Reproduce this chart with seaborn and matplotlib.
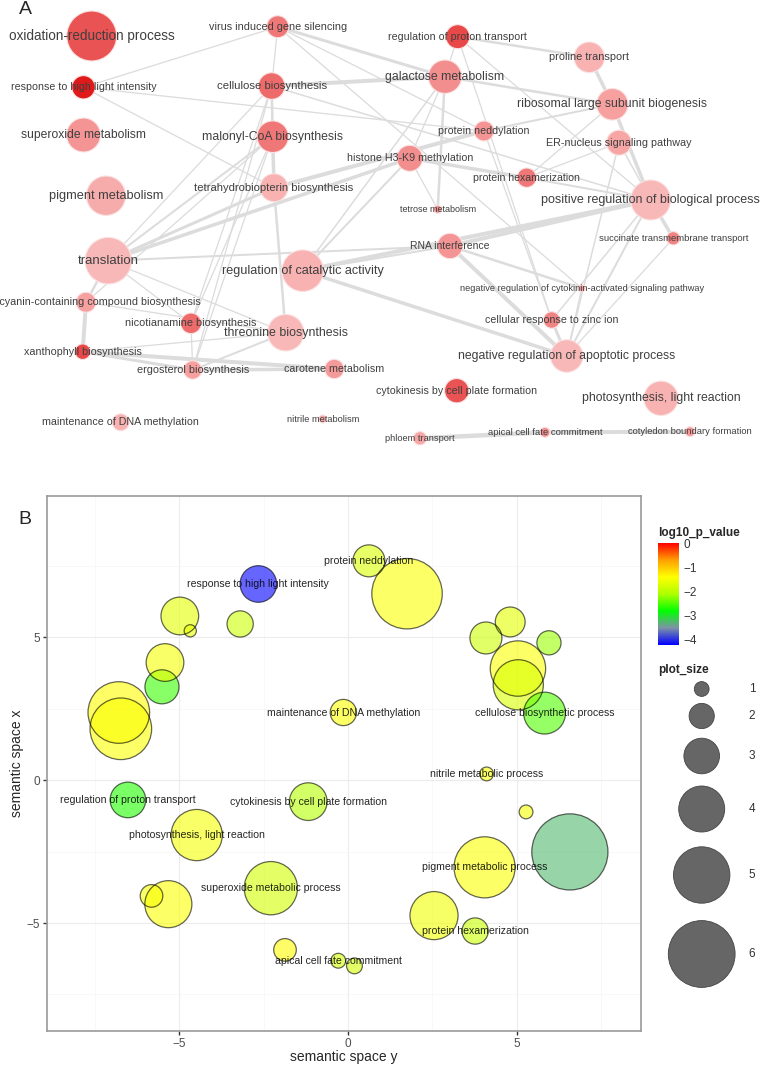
import numpy as np
import pandas as pd
import matplotlib
matplotlib.use("Agg")
import matplotlib.pyplot as plt
import seaborn as sns
from matplotlib.colors import LinearSegmentedColormap, Normalize
from matplotlib.cm import ScalarMappable

# ---------------- panel A: REVIGO network (layout in image pixels) ----------------
net_id = ["oxred", "virus", "hilight", "cellu", "superox", "malonyl", "pigment", "thbp",
          "proton", "galact", "proline", "ribo", "nedd", "ernuc", "histone", "hexam",
          "posreg", "tetrose", "transl", "catal", "antho", "nicot", "threon", "xantho",
          "ergo", "carot", "dnameth", "nitrile", "rnai", "succ", "cytok", "zinc",
          "apop", "cellplate", "photo", "phloem", "apical", "cotyl"]
net_label = ["oxidation-reduction process", "virus induced gene silencing",
             "response to high light intensity", "cellulose biosynthesis",
             "superoxide metabolism", "malonyl-CoA biosynthesis", "pigment metabolism",
             "tetrahydrobiopterin biosynthesis", "regulation of proton transport",
             "galactose metabolism", "proline transport", "ribosomal large subunit biogenesis",
             "protein neddylation", "ER-nucleus signaling pathway", "histone H3-K9 methylation",
             "protein hexamerization", "positive regulation of biological process",
             "tetrose metabolism", "translation", "regulation of catalytic activity",
             "anthocyanin-containing compound biosynthesis", "nicotianamine biosynthesis",
             "threonine biosynthesis", "xanthophyll biosynthesis", "ergosterol biosynthesis",
             "carotene metabolism", "maintenance of DNA methylation", "nitrile metabolism",
             "RNA interference", "succinate transmembrane transport",
             "negative regulation of cytokinin-activated signaling pathway",
             "cellular response to zinc ion", "negative regulation of apoptotic process",
             "cytokinesis by cell plate formation", "photosynthesis, light reaction",
             "phloem transport", "apical cell fate commitment", "cotyledon boundary formation"]
net_x = [91.7, 277.7, 83.5, 271.7, 83.5, 272.7, 106.0, 274.0, 457.7, 445.0, 589.3, 612.3,
         484.0, 619.0, 409.7, 526.7, 650.7, 437.7, 108.3, 302.7, 86.0, 191.0, 285.7, 82.7,
         192.7, 334.3, 120.7, 322.7, 450.0, 673.3, 581.7, 551.7, 566.7, 456.7, 661.0,
         420.0, 545.0, 690.0]
net_y = [36.0, 26.7, 87.3, 86.0, 135.0, 136.7, 195.7, 187.7, 36.7, 76.7, 57.3, 104.3,
         131.0, 142.7, 158.3, 177.7, 200.0, 209.3, 260.7, 270.7, 302.3, 323.3, 332.7, 351.7,
         370.0, 369.0, 422.3, 419.0, 246.0, 238.3, 288.3, 320.0, 356.0, 390.7, 398.3,
         438.3, 432.3, 431.7]
net_size = [25, 11, 11.7, 13.3, 17, 15.8, 19.7, 14, 12, 16.7, 15.3, 15.8, 10, 12.5, 13,
            9.7, 20, 4, 23.3, 20.8, 10, 10.3, 18.3, 7.8, 9.2, 9.7, 8.5, 4, 12.7, 6.7, 3.5,
            8.3, 16.3, 12.2, 17.2, 6.7, 5, 5]
net_signif = [0.75, 0.6, 1.0, 0.65, 0.45, 0.6, 0.25, 0.2, 0.8, 0.5, 0.2, 0.35, 0.45, 0.3,
              0.5, 0.6, 0.15, 0.5, 0.15, 0.2, 0.35, 0.65, 0.15, 0.8, 0.35, 0.4, 0.2, 0.3,
              0.45, 0.55, 0.4, 0.55, 0.15, 0.75, 0.2, 0.3, 0.5, 0.4]
net_label_w = [167, 138, 145, 111, 126, 141, 115, 160, 138, 119, 80, 191, 91, 145, 126,
               108, 219, 77, 61, 162, 228, 131, 124, 117, 112, 100, 156, 73, 80, 150, 245,
               132, 220, 160, 160, 70, 115, 125]

edge_src = ["virus", "virus", "virus", "virus", "virus", "hilight", "hilight", "cellu",
            "cellu", "cellu", "cellu", "cellu", "malonyl", "malonyl", "malonyl", "malonyl",
            "thbp", "thbp", "thbp", "transl", "transl", "transl", "transl", "transl",
            "catal", "catal", "catal", "catal", "catal", "antho", "antho", "xantho",
            "xantho", "xantho", "ergo", "ergo", "ergo", "ergo", "nicot", "proton", "proton",
            "proton", "proton", "galact", "galact", "galact", "proline", "ribo", "ribo",
            "ribo", "ernuc", "ernuc", "ernuc", "posreg", "posreg", "posreg", "posreg",
            "rnai", "rnai", "apop", "apop", "apop", "histone", "histone", "nedd", "hexam",
            "phloem", "apical"]
edge_dst = ["hilight", "galact", "cellu", "cytok", "nedd", "nedd", "thbp", "galact",
            "posreg", "transl", "nicot", "malonyl", "thbp", "transl", "ergo", "antho",
            "nedd", "threon", "transl", "histone", "rnai", "antho", "threon", "nicot",
            "posreg", "apop", "rnai", "galact", "histone", "xantho", "threon", "carot",
            "ergo", "threon", "carot", "threon", "nicot", "cellu", "malonyl", "galact",
            "proline", "zinc", "posreg", "ribo", "tetrose", "histone", "ribo", "posreg",
            "hexam", "nedd", "posreg", "hexam", "apop", "succ", "apop", "zinc", "rnai",
            "apop", "cytok", "zinc", "cytok", "succ", "hexam", "tetrose", "zinc", "posreg",
            "apical", "cotyl"]
edge_weight = [1.3, 3, 1.3, 1.3, 1.3, 1.3, 1.3, 4, 1.5, 1.3, 1.3, 2.5, 3.5, 2, 1.3, 1.3,
               4, 2.5, 3, 3.5, 2, 2.5, 1.3, 1.3, 4, 3.5, 2, 1.5, 2, 4, 1.3, 4, 3, 1.3, 3.5,
               2, 1.3, 1.3, 1.3, 1.3, 2.5, 1.3, 1.3, 2.5, 2.5, 1.3, 3.5, 3.5, 1.3, 2, 1.5,
               1.3, 1.5, 3.5, 2, 1.5, 4, 4, 2.5, 3, 1.3, 1.3, 3.5, 1.3, 1.3, 2, 4.5, 4]

# ---------------- panel B: semantic space bubbles ----------------
space_y = [-6.80, -6.74, -5.52, -5.43, -6.53, -4.99, -4.68, -3.20, -2.66, -0.14, 0.62,
           1.75, 4.09, 4.81, 5.96, 5.04, 5.05, 5.83, 4.11, 5.28, 6.58, -1.18, -4.49, -2.29,
           -5.83, -5.33, -1.87, -0.29, 0.19, 4.05, 2.55, 3.77]
space_x = [2.37, 1.80, 3.27, 4.12, -0.69, 5.75, 5.23, 5.47, 6.87, 2.37, 7.68, 6.53, 4.98,
           5.54, 4.81, 3.91, 3.34, 2.35, 0.22, -1.11, -2.51, -0.75, -1.92, -3.78, -4.05,
           -4.34, -5.94, -6.32, -6.50, -3.05, -4.74, -5.28]
log10_p = [-1.40, -1.45, -2.60, -1.50, -2.70, -1.65, -1.60, -1.85, -4.25, -1.45, -1.75,
           -1.45, -1.85, -1.65, -2.20, -1.45, -1.75, -2.50, -1.45, -1.50, -3.30, -2.05,
           -1.50, -1.80, -1.50, -1.45, -1.40, -1.80, -1.80, -1.45, -1.55, -1.90]
plot_size = [5.5, 5.5, 2.85, 3.2, 3.0, 3.2, 0.75, 2.1, 3.1, 2.1, 2.65, 6.35, 2.65, 2.45,
             1.9, 4.9, 4.4, 3.6, 0.9, 0.9, 6.9, 3.2, 4.5, 4.7, 1.75, 4.1, 1.75, 1.0, 1.1,
             5.45, 4.2, 2.1]
description = ["", "", "", "", "regulation of proton transport", "", "", "",
               "response to high light intensity", "maintenance of DNA methylation",
               "protein neddylation", "", "", "", "", "", "", "cellulose biosynthetic process",
               "nitrile metabolic process", "", "", "cytokinesis by cell plate formation",
               "photosynthesis, light reaction", "superoxide metabolic process", "", "", "",
               "apical cell fate commitment", "", "pigment metabolic process", "",
               "protein hexamerization"]
size_breaks = [1, 2, 3, 4, 5, 6]
p_ticks = [0, -1, -2, -3, -4]

W, H = 762, 1067
sns.set_style("white")
plt.rcParams["font.family"] = ["Liberation Sans", "DejaVu Sans"]


def bubble_area(v):
    # radius grows linearly with plot_size (pixels), converted to points^2
    r = 2.2 + 5.2 * np.asarray(v, dtype=float)
    return (2 * r * 0.72) ** 2


fig = plt.figure(figsize=(W / 100, H / 100), dpi=100)

# ---- A ----
ax_a = fig.add_axes([0, 1 - 455 / H, 1, 455 / H])
ax_a.set_xlim(0, W)
ax_a.set_ylim(455, 0)
ax_a.axis("off")

pos = {k: (x, y) for k, x, y in zip(net_id, net_x, net_y)}
for a, b, w in zip(edge_src, edge_dst, edge_weight):
    ax_a.plot([pos[a][0], pos[b][0]], [pos[a][1], pos[b][1]], color="#dcdcdc",
              lw=w * 0.72, solid_capstyle="round", zorder=1)

net = pd.DataFrame({"x": net_x, "y": net_y, "signif": net_signif,
                    "area": (1.44 * np.array(net_size)) ** 2})
pink = LinearSegmentedColormap.from_list("pink", ["#fccaca", "#f38e8e", "#e01a1a"])
sns.scatterplot(data=net, x="x", y="y", hue="signif", palette=pink, hue_norm=(0, 1),
                s=net["area"], linewidth=0.8, edgecolor="#fbe3e3", legend=False,
                ax=ax_a, zorder=2)
ax_a.set_xlim(0, W)
ax_a.set_ylim(455, 0)

labels_a = []
for x, y, lab in zip(net_x, net_y, net_label):
    labels_a.append(ax_a.text(x, y, lab, ha="center", va="center", fontsize=8,
                              color="#3f3f3f", zorder=3))
fig.text(25 / W, 1 - 9 / H, "A", fontsize=14, ha="center", va="center")

# ---- B ----
ax_b = fig.add_axes([47 / W, 1 - 1031 / H, (641 - 47) / W, (1031 - 496) / H])
revigo = LinearSegmentedColormap.from_list(
    "revigo", [(0, "#0000ff"), (1 / 6, "#7d93a6"), (1 / 3, "#00ff00"),
               (1 / 2, "#aeff00"), (2 / 3, "#ffff00"), (5 / 6, "#ffa100"), (1, "#ff0000")])
pnorm = (-4.25, 0)

df = pd.DataFrame({"space_y": space_y, "space_x": space_x, "log10_p_value": log10_p,
                   "plot_size": plot_size, "description": description})
areas = bubble_area(df["plot_size"])
sns.scatterplot(data=df, x="space_y", y="space_x", hue="log10_p_value", palette=revigo,
                hue_norm=pnorm, s=areas, alpha=0.6, linewidth=0, legend=False,
                ax=ax_b, zorder=2)
ax_b.scatter(df["space_y"], df["space_x"], s=areas, facecolors="none",
             edgecolors=(0, 0, 0, 0.6), linewidths=0.9, zorder=3)
for _, row in df[df["description"] != ""].iterrows():
    ax_b.text(row["space_y"], row["space_x"], row["description"], ha="center",
              va="center", fontsize=7.6, color=(0, 0, 0, 0.85), zorder=4)

ax_b.set_xlim(-8.93, 8.69)
ax_b.set_ylim(-8.78, 9.95)
ax_b.set_xticks([-5, 0, 5])
ax_b.set_yticks([-5, 0, 5])
ax_b.set_xticks([-7.5, -2.5, 2.5, 7.5], minor=True)
ax_b.set_yticks([-7.5, -2.5, 2.5, 7.5], minor=True)
ax_b.grid(which="major", color="#ececec", lw=0.8)
ax_b.grid(which="minor", color="#f5f5f5", lw=0.5)
ax_b.set_axisbelow(True)
ax_b.tick_params(which="major", length=3, width=1, color="#333333", labelsize=8.5,
                 labelcolor="#4d4d4d", pad=2, bottom=True, left=True)
ax_b.tick_params(which="minor", length=0)
ax_b.set_xlabel("")
ax_b.set_ylabel("")
for sp in ax_b.spines.values():
    sp.set_color("#9a9a9a")
    sp.set_linewidth(1.2)
fig.text(344 / W, 1 - 1057 / H, "semantic space y", fontsize=10, ha="center", va="center")
fig.text(17 / W, 1 - 763 / H, "semantic space x", fontsize=10, rotation=90,
         ha="center", va="center")
fig.text(25 / W, 1 - 520 / H, "B", fontsize=14, ha="center", va="center")

# colour bar
cax = fig.add_axes([658 / W, 1 - 645 / H, 21 / W, 102 / H])
cb = fig.colorbar(ScalarMappable(norm=Normalize(*pnorm), cmap=revigo), cax=cax,
                  ticks=p_ticks)
cb.outline.set_visible(False)
cax.tick_params(color="white", direction="in", length=4, width=1, labelsize=8.5,
                labelcolor="#333333", pad=3, left=True, right=True)
fig.text(658 / W, 1 - 533 / H, "log10_p_value", fontsize=8.5, fontweight="bold",
         va="center")

# size legend, keys stacked by their own height
fig.text(658 / W, 1 - 670 / H, "plot_size", fontsize=8.5, fontweight="bold", va="center")
leg = fig.add_axes([0, 0, 1, 1], facecolor="none")
leg.set_xlim(0, W)
leg.set_ylim(H, 0)
leg.axis("off")
radii = 2.2 + 5.2 * np.array(size_breaks, dtype=float)
key_h = 2.5 * radii + 2
centers = 689 + np.concatenate([[0], np.cumsum((key_h[:-1] + key_h[1:]) / 2)])
leg.scatter(np.full(len(size_breaks), 701.7), centers, s=bubble_area(size_breaks),
            color="#666666", edgecolor="#444444", linewidths=0.6)
for c, v in zip(centers, size_breaks):
    leg.text(752, c, str(v), fontsize=8.5, ha="center", va="center", color="#333333")

# fit network labels to the widths measured on the reference
fig.canvas.draw()
renderer = fig.canvas.get_renderer()
for t, w in zip(labels_a, net_label_w):
    bb = t.get_window_extent(renderer)
    t.set_fontsize(t.get_fontsize() * w / bb.width)

fig.savefig("out.png", dpi=100)
